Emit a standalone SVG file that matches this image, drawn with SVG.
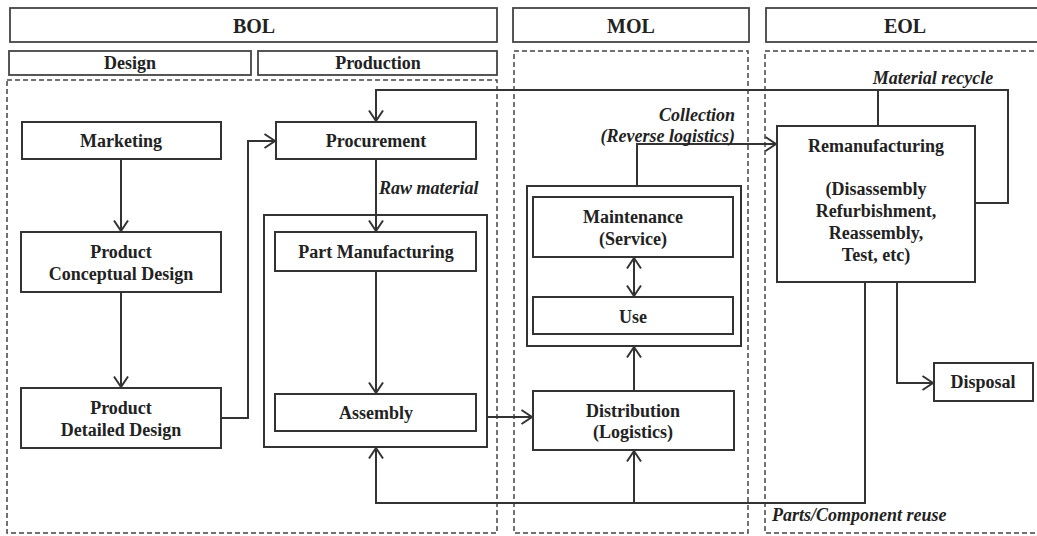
<svg xmlns="http://www.w3.org/2000/svg" width="1037" height="536" viewBox="0 0 1037 536">
<style>
.box{fill:#fff;stroke:#333;stroke-width:2}
.cont{fill:none;stroke:#333;stroke-width:2}
.hdr{fill:#fff;stroke:#444;stroke-width:1.8}
.dash{fill:none;stroke:#444;stroke-width:1.5;stroke-dasharray:5 3}
.ln{fill:none;stroke:#333;stroke-width:2}
.t{font-family:"Liberation Serif","Times New Roman",serif;font-weight:bold;font-size:18px;fill:#222;text-anchor:middle;dominant-baseline:central}
.h{font-size:20px}
.i{font-style:italic}
.r{text-anchor:end}
.s{text-anchor:start}
</style>
<defs>
<marker id="ah" viewBox="0 0 14 16" refX="12" refY="8" markerWidth="14" markerHeight="16" markerUnits="userSpaceOnUse" orient="auto-start-reverse">
<path d="M1.5,1 L12,8 L1.5,15" fill="none" stroke="#333" stroke-width="2"/>
</marker>
</defs>
<rect width="1037" height="536" fill="#fff"/>

<g id="phases">
<rect class="hdr" x="10" y="8" width="487" height="34"/>
<text class="t h" x="254" y="26">BOL</text>
<rect class="hdr" x="513" y="8" width="236" height="34"/>
<text class="t h" x="631" y="26">MOL</text>
<rect class="hdr" x="766" y="8" width="280" height="34"/>
<text class="t h" x="905" y="26">EOL</text>
<rect class="hdr" x="9" y="51" width="242" height="24"/>
<text class="t" x="130" y="63">Design</text>
<rect class="hdr" x="258" y="51" width="239" height="24"/>
<text class="t" x="378" y="63">Production</text>
<rect class="dash" x="7" y="80" width="490" height="453"/>
<rect class="dash" x="514" y="51" width="234" height="482"/>
<rect class="dash" x="765" y="51" width="290" height="482"/>
</g>

<g id="marketing">
<rect class="box" x="22" y="122" width="199" height="37"/>
<text class="t" x="121" y="141">Marketing</text>
</g>
<g id="conceptual-design">
<rect class="box" x="21" y="232" width="200" height="60"/>
<text class="t" x="121" y="252">Product</text>
<text class="t" x="121" y="274">Conceptual Design</text>
</g>
<g id="detailed-design">
<rect class="box" x="21" y="388" width="200" height="60"/>
<text class="t" x="121" y="408">Product</text>
<text class="t" x="121" y="430">Detailed Design</text>
</g>
<g id="procurement">
<rect class="box" x="276" y="122" width="200" height="37"/>
<text class="t" x="376" y="141">Procurement</text>
</g>
<g id="production-block">
<rect class="cont" x="264" y="215" width="223" height="232"/>
</g>
<g id="part-manufacturing">
<rect class="box" x="275" y="232" width="201" height="39"/>
<text class="t" x="376" y="252">Part Manufacturing</text>
</g>
<g id="assembly">
<rect class="box" x="275" y="394" width="201" height="37"/>
<text class="t" x="376" y="413">Assembly</text>
</g>
<g id="usage-block">
<rect class="cont" x="527" y="186" width="214" height="160"/>
</g>
<g id="maintenance">
<rect class="box" x="533" y="197" width="200" height="60"/>
<text class="t" x="633" y="217">Maintenance</text>
<text class="t" x="633" y="239">(Service)</text>
</g>
<g id="use">
<rect class="box" x="533" y="297" width="200" height="37"/>
<text class="t" x="633" y="317">Use</text>
</g>
<g id="distribution">
<rect class="box" x="533" y="391" width="201" height="59"/>
<text class="t" x="633" y="411">Distribution</text>
<text class="t" x="633" y="432">(Logistics)</text>
</g>
<g id="remanufacturing">
<rect class="box" x="777" y="126" width="198" height="156"/>
<text class="t" x="876" y="146">Remanufacturing</text>
<text class="t" x="876" y="189">(Disassembly</text>
<text class="t" x="876" y="211">Refurbishment,</text>
<text class="t" x="876" y="233">Reassembly,</text>
<text class="t" x="876" y="255">Test, etc)</text>
</g>
<g id="disposal">
<rect class="box" x="934" y="363" width="99" height="38"/>
<text class="t" x="983" y="382">Disposal</text>
</g>

<g id="connectors">
<line class="ln" x1="121" y1="159" x2="121" y2="231" marker-end="url(#ah)"/>
<line class="ln" x1="121" y1="292" x2="121" y2="387" marker-end="url(#ah)"/>
<path class="ln" d="M221,418 H248 V141 H275" marker-end="url(#ah)"/>
<line class="ln" x1="376" y1="159" x2="376" y2="231" marker-end="url(#ah)"/>
<line class="ln" x1="376" y1="271" x2="376" y2="393" marker-end="url(#ah)"/>
<line class="ln" x1="487" y1="417" x2="532" y2="417" marker-end="url(#ah)"/>
<line class="ln" x1="634" y1="391" x2="634" y2="347" marker-end="url(#ah)"/>
<line class="ln" x1="634" y1="258" x2="634" y2="296" marker-start="url(#ah)" marker-end="url(#ah)"/>
<path class="ln" d="M637,186 V144 H776" marker-end="url(#ah)"/>
<path class="ln" d="M975,203 H1008 V90 H376 V121" marker-end="url(#ah)"/>
<line class="ln" x1="878" y1="126" x2="878" y2="90"/>
<path class="ln" d="M897,282 V383 H933" marker-end="url(#ah)"/>
<path class="ln" d="M865,282 V503 H376 V448" marker-end="url(#ah)"/>
<line class="ln" x1="634" y1="503" x2="634" y2="451" marker-end="url(#ah)"/>
<text class="t i s" x="379" y="188">Raw material</text>
<text class="t i r" x="735" y="115">Collection</text>
<text class="t i r" x="735" y="136">(Reverse logistics)</text>
<text class="t i" x="933" y="78">Material recycle</text>
<text class="t i s" x="772" y="515">Parts/Component reuse</text>
</g>
</svg>
